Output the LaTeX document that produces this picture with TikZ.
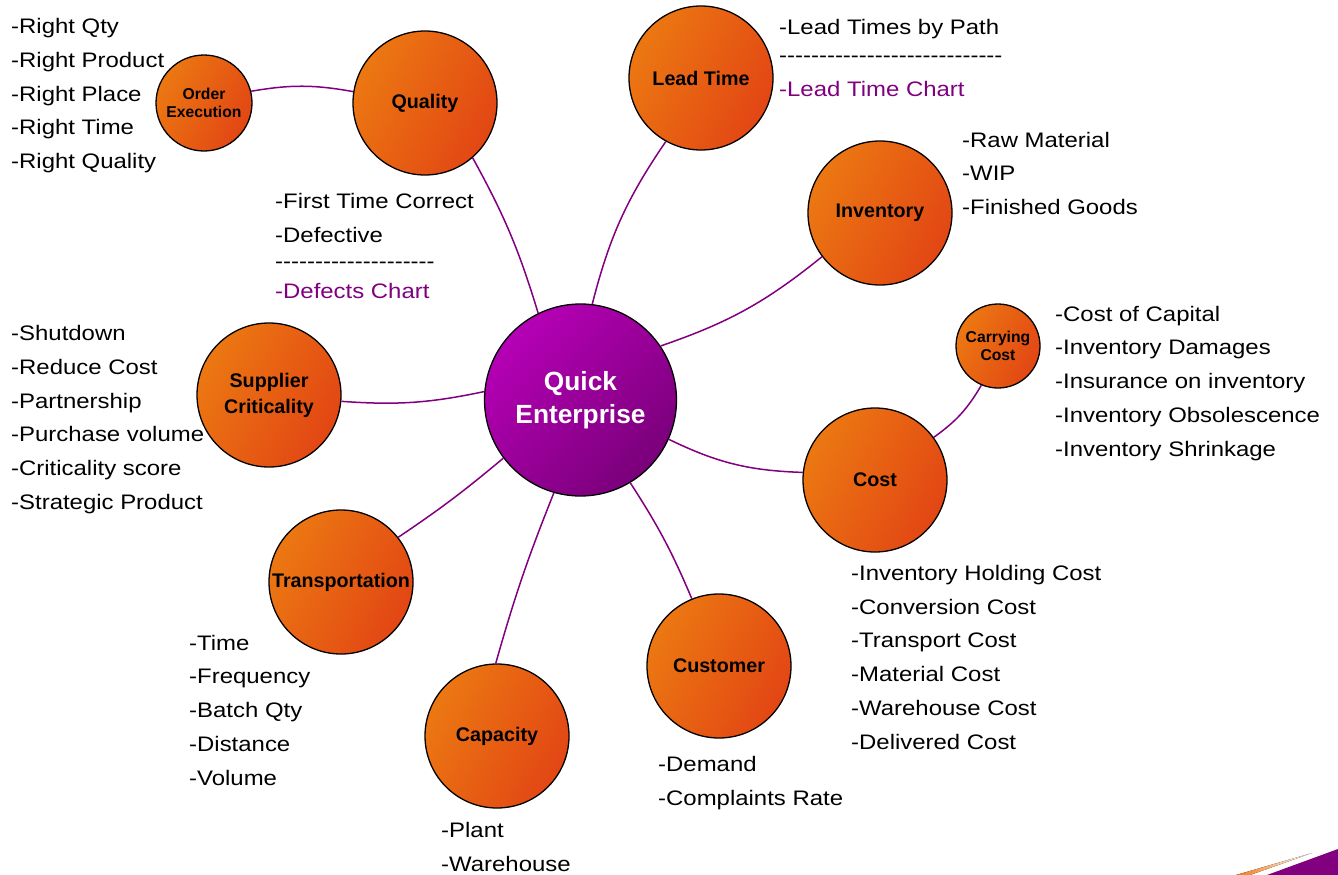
\documentclass[tikz,border=0pt]{standalone}
\usepackage{fontspec}
\setmainfont{Liberation Sans}
\newfontfamily\listfont[FakeStretch=1.14]{Liberation Sans}
\definecolor{bubA}{RGB}{236,120,18}
\definecolor{bubB}{RGB}{226,70,20}
\definecolor{quA}{RGB}{182,0,182}
\definecolor{quB}{RGB}{122,0,122}
\definecolor{plum}{RGB}{128,0,128}
\definecolor{swo}{RGB}{240,120,20}
\tikzset{
  bub/.style={circle, draw=black, line width=1.3pt, inner sep=0pt, align=center,
    top color=bubA, bottom color=bubB, shading angle=62,
    font=\bfseries\fontsize{19.7}{26}\selectfont},
  smallbub/.style={bub, font=\bfseries\fontsize{15.7}{18.5}\selectfont},
  hub/.style={circle, draw=black, line width=1.3pt, inner sep=0pt, align=center,
    top color=quA, bottom color=quB, shading angle=45, text=white,
    font=\bfseries\fontsize{26.3}{33}\selectfont},
  conn/.style={draw=plum, line width=1.5pt},
  lst/.style={anchor=base west, inner sep=0pt, align=left,
    font=\listfont\fontsize{21}{33.75}\selectfont},
  lstp/.style={lst, text=plum}
}
\begin{document}
\begin{tikzpicture}[x=1pt,y=1pt]
\useasboundingbox (0,0) rectangle (1338,-875);
% hubs
\node[hub, minimum size=192] (qe) at (580.5,-400) {Quick\\Enterprise};
\node[bub, minimum size=144] (q) at (425,-103) {Quality};
\node[smallbub, minimum size=96] (oe) at (204,-103) {Order\\Execution};
\node[bub, minimum size=144] (lt) at (701,-78) {Lead Time};
\node[bub, minimum size=144] (inv) at (880,-213) {Inventory};
\node[smallbub, minimum size=84] (cc) at (998,-346) {Carrying\\Cost};
\node[bub, minimum size=144] (cost) at (875,-480) {Cost};
\node[bub, minimum size=144] (cus) at (719,-666) {Customer};
\node[bub, minimum size=144] (cap) at (497,-736) {Capacity};
\node[bub, minimum size=144] (tr) at (341,-582) {Transportation};
\node[bub, minimum size=144] (sup) at (269,-395) {Supplier\\Criticality};
% connectors
\draw[conn] (oe.14) to[bend left=10] (q.171);
\draw[conn] (qe.116) to[bend right=6] (q.-49);
\draw[conn] (qe.83) to[bend left=10] (lt.-119);
\draw[conn] (qe.34) to[bend right=10] (inv.-143);
\draw[conn] (qe.175) to[bend left=8] (sup.-5);
\draw[conn] (qe.-24) to[bend right=12] (cost.174);
\draw[conn] (cost.36) to[bend right=12] (cc.-113);
\draw[conn] (qe.-143) to[bend left=3] (tr.38);
\draw[conn] (qe.-106) to[bend right=3] (cap.91);
\draw[conn] (qe.-59) to[bend left=5] (cus.112);
% lists (anchor = baseline of the last line)
\node[lst] (l1) at (11,-168.5) {-Right Qty\\-Right Product\\-Right Place\\-Right Time\\-Right Quality};
\node[lst] (l2a) at (275,-242) {-First Time Correct\\-Defective};
\node[lst] (l2b) at (275,-268.5) {--------------------};
\node[lstp] (l2c) at (275,-298.5) {-Defects Chart};
\node[lst] (l3a) at (779,-34.3) {-Lead Times by Path};
\node[lst] (l3b) at (779,-62.8) {----------------------------};
\node[lstp] (l3c) at (779,-96.7) {-Lead Time Chart};
\node[lst] (l4) at (962,-214.5) {-Raw Material\\-WIP\\-Finished Goods};
\node[lst] (l5) at (1055,-456) {-Cost of Capital\\-Inventory Damages\\-Insurance on inventory\\-Inventory Obsolescence\\-Inventory Shrinkage};
\node[lst] (l6) at (851,-749) {-Inventory Holding Cost\\-Conversion Cost\\-Transport Cost\\-Material Cost\\-Warehouse Cost\\-Delivered Cost};
\node[lst] (l7) at (658,-805.7) {-Demand\\-Complaints Rate};
\node[lst] (l8) at (441,-871.7) {-Plant\\-Warehouse};
\node[lst] (l9) at (189,-785) {-Time\\-Frequency\\-Batch Qty\\-Distance\\-Volume};
\node[lst] (l10) at (11,-509.3) {-Shutdown\\-Reduce Cost\\-Partnership\\-Purchase volume\\-Criticality score\\-Strategic Product};
% corner swoosh
\fill[left color=swo, right color=white] (1236,-875) -- (1312,-853) -- (1250,-875) -- cycle;
\fill[plum] (1267,-875) -- (1338,-849) -- (1338,-875) -- cycle;
\end{tikzpicture}
\end{document}
